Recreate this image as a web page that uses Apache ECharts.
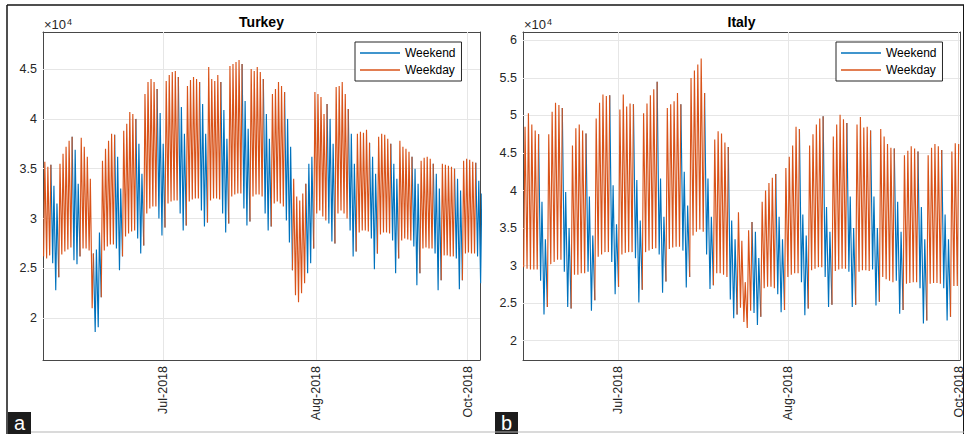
<!DOCTYPE html>
<html>
<head>
<meta charset="utf-8">
<script src="https://cdn.jsdelivr.net/npm/echarts@6/dist/echarts.min.js"></script>
<style>
  html, body { margin: 0; padding: 0; background: #ffffff; }
  #chart { width: 965px; height: 434px; }
</style>
</head>
<body>
<div id="chart"></div>
<script>
// Daily electricity load summary, in units of 10^4 MW:
// for every day the afternoon peak (High) and the early-morning trough (Low).

// Turkey: 30 May 2018 .. 21 Oct 2018
const turkeyStart = [2018, 4, 30];
const turkeyHigh = [
  3.57, 3.52, 3.54, 3.33, 3.15,
  3.55, 3.65, 3.72, 3.78, 3.82, 3.69, 3.35,
  3.81, 3.72, 3.62, 3.40, 2.65, 2.69, 2.86,
  3.58, 3.70, 3.78, 3.85, 3.84, 3.62, 3.30,
  3.88, 3.95, 4.07, 4.05, 4.00, 3.75, 3.45,
  4.25, 4.37, 4.40, 4.37, 4.30, 4.06, 3.75,
  4.38, 4.44, 4.47, 4.48, 4.42, 4.12, 3.85,
  4.33, 4.39, 4.42, 4.40, 4.37, 4.15, 3.85,
  4.52, 4.40, 4.38, 4.44, 4.37, 4.09, 3.80,
  4.53, 4.55, 4.57, 4.59, 4.55, 4.18, 3.90,
  4.50, 4.48, 4.52, 4.47, 4.40, 4.05, 3.80,
  4.25, 4.30, 4.37, 4.33, 4.27, 4.00, 3.72,
  3.40, 3.22, 3.18, 3.25, 3.35, 3.55, 3.62,
  4.27, 4.25, 4.22, 4.05, 4.15, 4.00, 3.75,
  4.32, 4.33, 4.37, 4.25, 4.10, 3.85, 3.55,
  3.85, 3.87, 3.86, 3.89, 3.76, 3.62, 3.45,
  3.82, 3.85, 3.84, 3.80, 3.75, 3.55, 3.40,
  3.78, 3.72, 3.70, 3.67, 3.62, 3.50, 3.35,
  3.58, 3.61, 3.62, 3.60, 3.55, 3.45, 3.30,
  3.55, 3.54, 3.53, 3.52, 3.50, 3.40, 3.28,
  3.58, 3.60, 3.59, 3.57, 3.56, 3.38, 3.25
];
const turkeyLow = [
  2.62, 2.60, 2.63, 2.55, 2.28,
  2.41, 2.64, 2.67, 2.69, 2.71, 2.58, 2.54,
  2.62, 2.70, 2.70, 2.68, 2.10, 1.86, 1.91,
  2.21, 2.68, 2.72, 2.74, 2.74, 2.70, 2.48,
  2.62, 2.82, 2.85, 2.87, 2.88, 2.80, 2.65,
  2.73, 3.05, 3.10, 3.12, 3.12, 3.00, 2.83,
  2.91, 3.15, 3.17, 3.18, 3.18, 3.05, 2.88,
  2.93, 3.17, 3.19, 3.20, 3.20, 3.08, 2.92,
  2.96, 3.18, 3.20, 3.20, 3.19, 3.05, 2.86,
  2.95, 3.22, 3.24, 3.25, 3.25, 3.10, 2.93,
  2.97, 3.22, 3.24, 3.24, 3.22, 3.05, 2.88,
  2.92, 3.15, 3.17, 3.15, 3.12, 2.98, 2.76,
  2.48, 2.23, 2.16, 2.25, 2.35, 2.45, 2.55,
  2.70, 3.05, 3.08, 3.02, 2.98, 2.95, 2.77,
  2.75, 3.05, 3.08, 3.05, 3.00, 2.88, 2.62,
  2.67, 2.86, 2.88, 2.88, 2.87, 2.80, 2.49,
  2.65, 2.84, 2.86, 2.86, 2.85, 2.78, 2.45,
  2.60, 2.78, 2.80, 2.79, 2.78, 2.72, 2.33,
  2.45, 2.70, 2.71, 2.70, 2.70, 2.65, 2.28,
  2.38, 2.63, 2.63, 2.62, 2.62, 2.60, 2.29,
  2.38, 2.65, 2.66, 2.65, 2.65, 2.62, 2.35
];

// Italy: 11 Jun 2018 .. 17 Oct 2018
const italyStart = [2018, 5, 11];
const italyHigh = [
  4.85, 5.03, 4.88, 4.80, 4.75, 3.85, 3.35,
  4.75, 5.05, 5.17, 5.14, 5.10, 3.98, 3.50,
  4.60, 4.83, 4.88, 4.80, 4.76, 3.92, 3.40,
  4.96, 5.17, 5.28, 5.26, 5.27, 4.07, 3.55,
  5.08, 5.28, 5.12, 5.16, 5.15, 4.14, 3.60,
  5.03, 5.16, 5.27, 5.35, 5.45, 4.16, 3.65,
  5.10, 5.15, 5.19, 5.30, 5.15, 4.25, 3.80,
  5.50, 5.60, 5.68, 5.76, 5.30, 4.16, 3.65,
  4.68, 4.79, 4.76, 4.64, 4.58, 3.60, 3.35,
  3.71, 3.33, 2.78, 3.47, 3.58, 3.45, 3.10,
  3.85, 4.00, 4.10, 4.17, 4.22, 3.65, 3.35,
  4.30, 4.45, 4.60, 4.85, 4.82, 3.68, 3.40,
  4.60, 4.75, 4.88, 4.96, 4.99, 3.78, 3.45,
  4.72, 4.88, 5.01, 4.95, 4.90, 3.92, 3.50,
  4.88, 4.98, 4.84, 4.85, 4.80, 3.92, 3.50,
  4.82, 4.72, 4.62, 4.57, 4.56, 3.85, 3.45,
  4.47, 4.53, 4.59, 4.56, 4.52, 3.78, 3.35,
  4.47, 4.57, 4.62, 4.59, 4.54, 3.68, 3.35,
  4.52, 4.63, 4.62
];
const italyLow = [
  2.98, 2.96, 2.95, 2.95, 2.95, 2.80, 2.35,
  2.45, 3.02, 3.05, 3.08, 3.08, 2.92, 2.45,
  2.43, 2.88, 2.88, 2.90, 2.90, 2.92, 2.40,
  2.54, 3.12, 3.15, 3.18, 3.18, 3.05, 2.62,
  2.72, 3.15, 3.17, 3.18, 3.18, 3.10, 2.51,
  2.68, 3.18, 3.20, 3.22, 3.23, 3.15, 2.64,
  2.79, 3.22, 3.24, 3.25, 3.25, 3.20, 2.71,
  2.85, 3.40, 3.45, 3.48, 3.45, 3.15, 2.69,
  2.74, 2.90, 2.90, 2.88, 2.85, 2.55, 2.30,
  2.35, 2.44, 2.25, 2.17, 2.40, 2.37, 2.21,
  2.32, 2.70, 2.72, 2.72, 2.70, 2.62, 2.38,
  2.41, 2.85, 2.88, 2.90, 2.90, 2.78, 2.34,
  2.43, 2.94, 2.96, 2.98, 2.98, 2.85, 2.45,
  2.48, 2.93, 2.95, 2.96, 2.96, 2.92, 2.45,
  2.48, 2.92, 2.94, 2.94, 2.93, 2.95, 2.47,
  2.52, 2.85, 2.82, 2.80, 2.78, 2.80, 2.36,
  2.41, 2.76, 2.77, 2.78, 2.78, 2.70, 2.23,
  2.27, 2.76, 2.77, 2.77, 2.76, 2.70, 2.27,
  2.32, 2.73, 2.73
];

// Axis ticks (x in days from each series start, y in 10^4 MW)
const dateTickLabels = ['Jul-2018', 'Aug-2018', 'Oct-2018'];
const turkeyDateTicks = [39.6, 89.9, 139.9];
const italyDateTicks = [28.0, 78.3, 128.6];
const turkeyLoadTicks = [2, 2.5, 3, 3.5, 4, 4.5];
const italyLoadTicks = [2, 2.5, 3, 3.5, 4, 4.5, 5, 5.5, 6];

const FONT = "'Liberation Sans', Arial, Helvetica, sans-serif";
const AXIS_COLOR = '#262626';
const BOX_COLOR = '#474747';
const GRID_COLOR = '#e6e6e6';
const BLUE = '#0072BD';
const ORANGE = '#D95319';
const LOW_AT = 0.2;   // trough ~05:00
const HIGH_AT = 0.6;  // peak ~14:00

function isWeekend(start, i) {
  const dow = new Date(Date.UTC(start[0], start[1], start[2] + i)).getUTCDay();
  return dow === 0 || dow === 6;
}

// Split the daily zig-zag into weekday and weekend runs.
function splitByWeekday(start, highs, lows) {
  const weekday = [], weekend = [];
  for (let i = 0; i < highs.length; i++) {
    const we = isWeekend(start, i);
    const prevWe = i > 0 ? isWeekend(start, i - 1) : we;
    const lo = [i + LOW_AT, lows[i]];
    const hi = [i + HIGH_AT, highs[i]];
    if (we) {
      if (i > 0 && !prevWe) {
        weekday.push([i, null]);
        weekend.push([i - 1 + HIGH_AT, highs[i - 1]]);
      }
      weekend.push(lo, hi);
    } else {
      if (i > 0 && prevWe) {
        weekend.push(lo);
        weekend.push([i, null]);
      }
      weekday.push(lo, hi);
    }
  }
  return { weekday, weekend };
}

const turkey = splitByWeekday(turkeyStart, turkeyHigh, turkeyLow);
const italy = splitByWeekday(italyStart, italyHigh, italyLow);

function nearestLabel(ticks, v) {
  let best = 0;
  ticks.forEach((t, k) => { if (Math.abs(t - v) < Math.abs(ticks[best] - v)) best = k; });
  return dateTickLabels[best];
}

const labelStyle = { fontFamily: FONT, fontSize: 12.5, color: AXIS_COLOR };

function bottomAxis(gridIndex, max, ticks) {
  return {
    type: 'value', gridIndex, position: 'bottom', min: 0, max,
    axisLine: { show: true, onZero: false, lineStyle: { color: BOX_COLOR, width: 1 } },
    axisTick: { show: true, inside: true, length: 5, customValues: ticks, lineStyle: { color: AXIS_COLOR } },
    axisLabel: Object.assign({
      show: true, rotate: 90, margin: 6, customValues: ticks,
      formatter: v => nearestLabel(ticks, v)
    }, labelStyle),
    splitLine: { show: false }
  };
}
function topAxis(gridIndex, max, ticks) {
  return {
    type: 'value', gridIndex, position: 'top', min: 0, max,
    axisLine: { show: true, onZero: false, lineStyle: { color: BOX_COLOR, width: 1 } },
    axisTick: { show: true, inside: true, length: 5, customValues: ticks, lineStyle: { color: AXIS_COLOR } },
    axisLabel: { show: false },
    splitLine: { show: false }
  };
}
function sideAxis(gridIndex, position, min, max, ticks, withLabels) {
  return {
    type: 'value', gridIndex, position, min, max,
    axisLine: { show: true, onZero: false, lineStyle: { color: BOX_COLOR, width: 1 } },
    axisTick: { show: true, inside: true, length: 5, customValues: ticks, lineStyle: { color: AXIS_COLOR } },
    axisLabel: withLabels
      ? Object.assign({ show: true, margin: 6, customValues: ticks, formatter: v => String(v) }, labelStyle)
      : { show: false },
    splitLine: { show: false }
  };
}

// Light grid behind the load curves, at the tick positions
function gridLines(xi, yi, xTicks, yTicks) {
  return {
    type: 'line', name: 'grid', xAxisIndex: xi, yAxisIndex: yi, data: [], z: 1,
    silent: true, animation: false,
    markLine: {
      z: 1, silent: true, animation: false, symbol: ['none', 'none'],
      label: { show: false },
      lineStyle: { color: GRID_COLOR, width: 1, type: 'solid' },
      emphasis: { disabled: true },
      data: xTicks.map(v => ({ xAxis: v })).concat(yTicks.map(v => ({ yAxis: v })))
    }
  };
}
function loadLine(name, xi, yi, data, color, z) {
  return {
    type: 'line', name, xAxisIndex: xi, yAxisIndex: yi, data, z,
    showSymbol: false, symbol: 'none', connectNulls: false, animation: false,
    lineStyle: { color, width: 1.15 }, itemStyle: { color },
    emphasis: { disabled: true }
  };
}
function legendBox(left) {
  return {
    left, top: 42, z: 8, orient: 'vertical', data: ['Weekend', 'Weekday'],
    icon: 'rect', itemWidth: 40, itemHeight: 1.5, itemGap: 3,
    padding: [4, 6, 4, 5], borderColor: AXIS_COLOR, borderWidth: 1, borderRadius: 0,
    backgroundColor: '#ffffff', selectedMode: false,
    textStyle: { fontFamily: FONT, fontSize: 12, color: '#000000', lineHeight: 14 }
  };
}
function multiplierText(x) {
  return {
    type: 'text', x, y: 17, z: 10,
    style: {
      text: '{m|×10}{e|4}',
      rich: {
        m: { fontFamily: FONT, fontSize: 13, fill: AXIS_COLOR, verticalAlign: 'bottom', lineHeight: 14 },
        e: { fontFamily: FONT, fontSize: 9, fill: AXIS_COLOR, verticalAlign: 'top', lineHeight: 14, padding: [0, 0, 6, 1] }
      }
    }
  };
}
function titleText(x, text) {
  return {
    type: 'text', x, y: 22, z: 10,
    style: { text, fontFamily: FONT, fontSize: 14, fontWeight: 'bold', fill: '#000000', align: 'center', verticalAlign: 'middle' }
  };
}
function panelTag(x, text) {
  return {
    type: 'group', z: 10, children: [
      { type: 'rect', shape: { x, y: 412, width: 23, height: 22 }, style: { fill: '#1c1c1c' } },
      { type: 'text', x: x + 11.5, y: 423, style: { text, fontFamily: FONT, fontSize: 20, fill: '#ffffff', align: 'center', verticalAlign: 'middle' } }
    ]
  };
}

const option = {
  backgroundColor: '#ffffff',
  animation: false,
  grid: [
    { left: 43, top: 32, width: 437, height: 328, outerBoundsMode: 'none', containLabel: false },
    { left: 523, top: 32, width: 437, height: 328, outerBoundsMode: 'none', containLabel: false }
  ],
  xAxis: [
    bottomAxis(0, turkeyHigh.length - 1, turkeyDateTicks),
    bottomAxis(1, italyHigh.length, italyDateTicks),
    topAxis(0, turkeyHigh.length - 1, turkeyDateTicks),
    topAxis(1, italyHigh.length, italyDateTicks)
  ],
  yAxis: [
    sideAxis(0, 'left', 1.580, 4.872, turkeyLoadTicks, true),
    sideAxis(1, 'left', 1.743, 6.112, italyLoadTicks, true),
    sideAxis(0, 'right', 1.580, 4.872, turkeyLoadTicks, false),
    sideAxis(1, 'right', 1.743, 6.112, italyLoadTicks, false)
  ],
  legend: [legendBox(355), legendBox(836)],
  series: [
    gridLines(0, 0, turkeyDateTicks, turkeyLoadTicks),
    loadLine('Weekend', 0, 0, turkey.weekend, BLUE, 2),
    loadLine('Weekday', 0, 0, turkey.weekday, ORANGE, 3),
    gridLines(1, 1, italyDateTicks, italyLoadTicks),
    loadLine('Weekend', 1, 1, italy.weekend, BLUE, 2),
    loadLine('Weekday', 1, 1, italy.weekday, ORANGE, 3)
  ],
  graphic: [
    titleText(261.5, 'Turkey'),
    titleText(741.5, 'Italy'),
    multiplierText(44),
    multiplierText(524),
    { type: 'line', z: 10, shape: { x1: 7, y1: 5, x2: 964, y2: 5 }, style: { stroke: '#151515', lineWidth: 1.5 } },
    { type: 'line', z: 10, shape: { x1: 7, y1: 5, x2: 7, y2: 434 }, style: { stroke: '#151515', lineWidth: 1.5 } },
    { type: 'line', z: 10, shape: { x1: 963.5, y1: 5, x2: 963.5, y2: 434 }, style: { stroke: '#151515', lineWidth: 1 } },
    { type: 'line', z: 10, shape: { x1: 31, y1: 432, x2: 964, y2: 432 }, style: { stroke: '#b5b5b5', lineWidth: 1 } },
    panelTag(8, 'a'),
    panelTag(495, 'b')
  ]
};

const chart = echarts.init(document.getElementById('chart'), null, { renderer: 'svg' });
chart.setOption(option);
</script>
</body>
</html>
